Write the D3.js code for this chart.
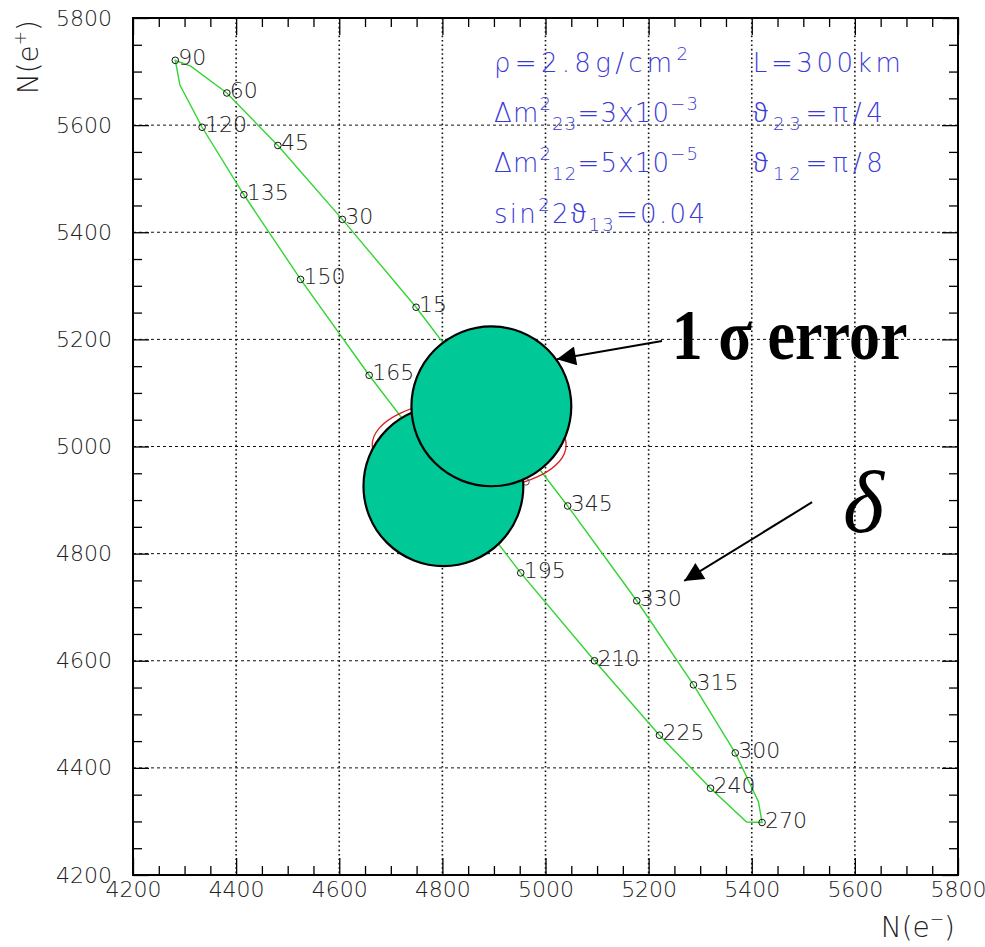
<!DOCTYPE html>
<html>
<head>
<meta charset="utf-8">
<script src="https://cdn.jsdelivr.net/npm/d3@7"></script>
<style>
  html, body { margin: 0; padding: 0; background: #fff; }
  svg { display: block; }
  .tick text { font-family: "DejaVu Sans", sans-serif; font-weight: 200; fill: #222; }
</style>
</head>
<body>
<svg id="chart" width="985" height="947"></svg>
<script>
// ---------------- data ----------------
const deltaDeg  = [0, 15, 30, 45, 60, 75, 90, 105, 120, 135, 150, 165, 180, 195, 210, 225, 240, 255, 270, 285, 300, 315, 330, 345];
const nElectron = [4895, 4749, 4606, 4481, 4382, 4312, 4282, 4291, 4334, 4415, 4525, 4658, 4805, 4952, 5095, 5221, 5320, 5390, 5420, 5413, 5368, 5287, 5177, 5043];
const nPositron = [5075, 5260, 5424, 5562, 5660, 5710, 5721, 5675, 5596, 5470, 5312, 5133, 4948, 4764, 4600, 4461, 4362, 4299, 4298, 4337, 4428, 4555, 4712, 4889];
const labeledDeg = [15, 30, 45, 60, 90, 120, 135, 150, 165, 195, 210, 225, 240, 270, 300, 315, 330, 345];

const axisMin = 4200, axisMax = 5800;
const majorTicks = [4200, 4400, 4600, 4800, 5000, 5200, 5400, 5600, 5800];
const minorStep = 50;

// 1 sigma error circles (centre in N(e-), N(e+); radius in event counts)
const errorCx = [4802, 4895];
const errorCy = [4926, 5075];
const errorRadius = 155;

// red contour hidden behind the circles
const redCx = 4852, redCy = 5003, redRx = 188, redRy = 84;
const redMarker = [4962, 4934];

// annotation anchors (data coordinates)
const sigmaText = { x: 5245, y: 5163, label: "1 \u03C3 error" };
const sigmaArrow = { x1: 5226, y1: 5197, x2: 5022, y2: 5163 };
const deltaText = { x: 5577, y: 4840, label: "\u03B4" };
const deltaArrow = { x1: 5517, y1: 4896, x2: 5269, y2: 4749 };

// ---------------- chart ----------------
const svg = d3.select("#chart");
const L = 133, R = 958, T = 18, B = 875;
const x = d3.scaleLinear().domain([axisMin, axisMax]).range([L, R]);
const y = d3.scaleLinear().domain([axisMin, axisMax]).range([B, T]);
const minorTicks = d3.range(axisMin, axisMax + 1, minorStep).filter(v => !majorTicks.includes(v));

// grid
const inner = majorTicks.filter(v => v > axisMin && v < axisMax);
svg.append("g").selectAll("line").data(inner).join("line")
  .attr("x1", d => x(d)).attr("x2", d => x(d)).attr("y1", T).attr("y2", B)
  .attr("stroke", "#111").attr("stroke-width", 1.6).attr("stroke-dasharray", "1.6,2.8");
svg.append("g").selectAll("line").data(inner).join("line")
  .attr("y1", d => y(d)).attr("y2", d => y(d)).attr("x1", L).attr("x2", R)
  .attr("stroke", "#111").attr("stroke-width", 1).attr("stroke-dasharray", "3,3");

// axes
function styleAxis(g) {
  g.select(".domain").remove();
  g.selectAll(".tick line").attr("stroke", "#000").attr("stroke-width", 1.3);
}
svg.append("g").attr("transform", `translate(0,${B})`)
  .call(d3.axisBottom(x).tickValues(majorTicks).tickSize(-17).tickPadding(6).tickFormat(d3.format("d")))
  .call(styleAxis)
  .selectAll("text").attr("font-size", 22);
svg.append("g").attr("transform", `translate(0,${B})`)
  .call(d3.axisBottom(x).tickValues(minorTicks).tickSize(-9).tickFormat(""))
  .call(styleAxis);
svg.append("g").attr("transform", `translate(0,${T})`)
  .call(d3.axisTop(x).tickValues(majorTicks).tickSize(-17).tickFormat(""))
  .call(styleAxis);
svg.append("g").attr("transform", `translate(0,${T})`)
  .call(d3.axisTop(x).tickValues(minorTicks).tickSize(-9).tickFormat(""))
  .call(styleAxis);
svg.append("g").attr("transform", `translate(${L},0)`)
  .call(d3.axisLeft(y).tickValues(majorTicks).tickSize(-16).tickPadding(21).tickFormat(d3.format("d")))
  .call(styleAxis)
  .selectAll("text").attr("font-size", 22);
svg.append("g").attr("transform", `translate(${L},0)`)
  .call(d3.axisLeft(y).tickValues(minorTicks).tickSize(-9).tickFormat(""))
  .call(styleAxis);
svg.append("g").attr("transform", `translate(${R},0)`)
  .call(d3.axisRight(y).tickValues(majorTicks).tickSize(-16).tickFormat(""))
  .call(styleAxis);
svg.append("g").attr("transform", `translate(${R},0)`)
  .call(d3.axisRight(y).tickValues(minorTicks).tickSize(-9).tickFormat(""))
  .call(styleAxis);

// frame
svg.append("rect").attr("x", L).attr("y", T).attr("width", R - L).attr("height", B - T)
  .attr("fill", "none").attr("stroke", "#000").attr("stroke-width", 2);

// axis titles
const titleFont = "'DejaVu Sans', sans-serif";
const xt = svg.append("text").attr("x", 955).attr("y", 937).attr("text-anchor", "end")
  .attr("font-family", titleFont).attr("font-weight", 200).attr("font-size", 28).attr("fill", "#222");
xt.append("tspan").text("N(e");
xt.append("tspan").attr("font-size", 17).attr("dy", -12).text("\u2212");
xt.append("tspan").attr("dy", 12).text(")");
const yt = svg.append("text").attr("transform", "translate(38,20) rotate(-90)").attr("text-anchor", "end")
  .attr("font-family", titleFont).attr("font-weight", 200).attr("font-size", 28).attr("fill", "#222");
yt.append("tspan").text("N(e");
yt.append("tspan").attr("font-size", 17).attr("dy", -12).text("+");
yt.append("tspan").attr("dy", 12).text(")");

// curve
const pts = deltaDeg.map((d, i) => ({ deg: d, ne: nElectron[i], np: nPositron[i] }));
svg.append("path").datum(pts)
  .attr("d", d3.line().x(d => x(d.ne)).y(d => y(d.np)).curve(d3.curveLinearClosed))
  .attr("fill", "none").attr("stroke", "#33d433").attr("stroke-width", 1.4);

const lab = pts.filter(d => labeledDeg.includes(d.deg));
svg.append("g").selectAll("circle").data(lab).join("circle")
  .attr("cx", d => x(d.ne)).attr("cy", d => y(d.np)).attr("r", 3.3)
  .attr("fill", "none").attr("stroke", "#111").attr("stroke-width", 1);
svg.append("g").selectAll("text").data(lab).join("text")
  .attr("x", d => x(d.ne) + 3).attr("y", d => y(d.np) + 5)
  .attr("font-family", titleFont).attr("font-weight", 200).attr("font-size", 22).attr("fill", "#222")
  .text(d => d.deg);

// red contour
svg.append("ellipse").attr("cx", x(redCx)).attr("cy", y(redCy))
  .attr("rx", x(redCx + redRx) - x(redCx)).attr("ry", y(redCy - redRy) - y(redCy))
  .attr("fill", "none").attr("stroke", "#d42020").attr("stroke-width", 1.3);
svg.append("circle").attr("cx", x(redMarker[0])).attr("cy", y(redMarker[1])).attr("r", 3.3)
  .attr("fill", "none").attr("stroke", "#555").attr("stroke-width", 1);

// error circles
svg.append("g").selectAll("circle").data(errorCx.map((cx, i) => ({ cx, cy: errorCy[i] }))).join("circle")
  .attr("cx", d => x(d.cx)).attr("cy", d => y(d.cy))
  .attr("r", x(axisMin + errorRadius) - x(axisMin))
  .attr("fill", "#00c896").attr("stroke", "#000").attr("stroke-width", 2.2);

// arrows
const defs = svg.append("defs");
defs.append("marker").attr("id", "head").attr("viewBox", "0 0 10 10").attr("refX", 10).attr("refY", 5)
  .attr("markerUnits", "userSpaceOnUse").attr("markerWidth", 22).attr("markerHeight", 19).attr("orient", "auto")
  .append("path").attr("d", "M0,0 L10,5 L0,10 Z").attr("fill", "#000");
[sigmaArrow, deltaArrow].forEach(a => {
  svg.append("line").attr("x1", x(a.x1)).attr("y1", y(a.y1)).attr("x2", x(a.x2)).attr("y2", y(a.y2))
    .attr("stroke", "#000").attr("stroke-width", 2).attr("marker-end", "url(#head)");
});

// annotation texts
svg.append("text").attr("transform", `translate(${x(sigmaText.x)},${y(sigmaText.y)}) scale(1,1.15)`)
  .attr("font-family", "'Liberation Serif', 'Times New Roman', serif").attr("font-weight", "bold")
  .attr("font-size", 62).attr("fill", "#000").text(sigmaText.label);
svg.append("text").attr("x", x(deltaText.x)).attr("y", y(deltaText.y))
  .attr("font-family", "'Liberation Serif', 'Times New Roman', serif").attr("font-style", "italic")
  .attr("font-size", 88).attr("fill", "#000").text(deltaText.label);

// parameter block
const blue = "#3a3ad6";
const paramCol1X = 4900, paramCol2X = 5402;
const paramRowY = [5699, 5606, 5512, 5417];
function param(xv, yv, width, parts) {
  const t = svg.append("text").attr("x", x(xv)).attr("y", y(yv))
    .attr("font-family", titleFont).attr("font-weight", 200).attr("font-size", 26).attr("fill", blue)
    .attr("textLength", width).attr("lengthAdjust", "spacing");
  let cur = 0;
  parts.forEach(p => {
    const s = t.append("tspan").text(p.t);
    const target = p.k === "sup" ? -12 : p.k === "sub" ? 8 : 0;
    if (target !== cur) { s.attr("dy", target - cur); cur = target; }
    if (p.k) s.attr("font-size", 18);
    if (p.g) s.attr("font-weight", 300).attr("font-family", "'Noto Sans', 'Open Sans', sans-serif");
  });
}
param(paramCol1X, paramRowY[0], 194, [{t: "\u03C1=2.8g/cm"}, {t: "2", k: "sup"}]);
param(paramCol2X, paramRowY[0], 148, [{t: "L=300km"}]);
param(paramCol1X, paramRowY[1], 204, [{t: "\u0394m"}, {t: "2", k: "sup"}, {t: "23", k: "sub"}, {t: "=3x10"}, {t: "\u22123", k: "sup"}]);
param(paramCol2X, paramRowY[1], 130, [{t: "\u03D1", g: 1}, {t: "23", k: "sub"}, {t: "=\u03C0/4"}]);
param(paramCol1X, paramRowY[2], 204, [{t: "\u0394m"}, {t: "2", k: "sup"}, {t: "12", k: "sub"}, {t: "=5x10"}, {t: "\u22125", k: "sup"}]);
param(paramCol2X, paramRowY[2], 130, [{t: "\u03D1", g: 1}, {t: "12", k: "sub"}, {t: "=\u03C0/8"}]);
param(paramCol1X, paramRowY[3], 211, [{t: "sin"}, {t: "2", k: "sup"}, {t: "2"}, {t: "\u03D1", g: 1}, {t: "13", k: "sub"}, {t: "=0.04"}]);
</script>
</body>
</html>
